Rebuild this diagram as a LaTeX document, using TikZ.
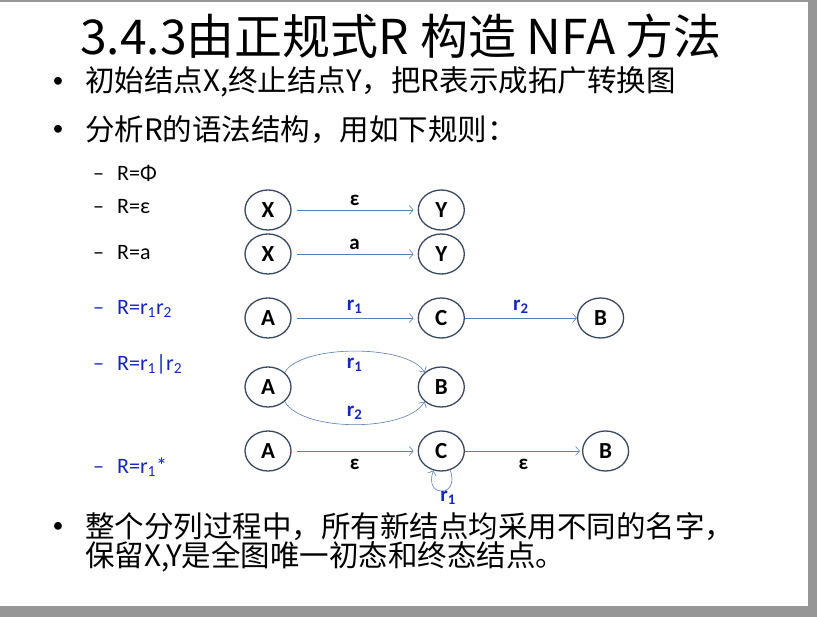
\documentclass[tikz,border=0pt]{standalone}
\usepackage{fontspec}
\setmainfont{Carlito}
\newfontfamily\cjk{Noto Sans CJK SC}
\usetikzlibrary{positioning,shapes.geometric,arrows.meta}
\definecolor{rimgray}{RGB}{150,150,150}
\definecolor{ringcol}{RGB}{58,72,100}
\definecolor{linecol}{RGB}{90,128,176}
\definecolor{rblue}{RGB}{20,40,190}
\tikzset{
  st/.style={ellipse, draw=ringcol, line width=1.3pt, minimum width=46pt, minimum height=40pt,
    inner sep=0pt, font=\bfseries\fontsize{23}{23}\selectfont},
  ed/.style={-{Straight Barb[length=4pt,width=9pt]}, draw=linecol, line width=0.6pt,
    shorten <=5pt, shorten >=4pt},
  lab/.style={font=\bfseries\fontsize{21}{21}\selectfont},
  blab/.style={lab, text=rblue},
  item/.style={anchor=west, inner sep=0pt, font=\fontsize{22}{24}\selectfont},
  big/.style={anchor=west, inner sep=0pt, font=\cjk\fontsize{29.5}{31}\selectfont},
  dot/.style={inner sep=0pt, font=\fontsize{22}{22}\selectfont},
}
\begin{document}
\begin{tikzpicture}[x=1pt, y=-1pt, node distance=126pt]
  \useasboundingbox (0,0) rectangle (817,617);
  \fill[rimgray] (0,0) rectangle (817,617);
  \fill[white] (0,2) rectangle (808,606);

  % title and bullets
  \node (t) [anchor=base west, inner sep=0pt, font=\cjk\fontsize{48}{50}\selectfont] at (80,55)
    {3.4.3由正规式R 构造 NFA 方法};
  \node (b1) [big] at (85,82) {初始结点X,终止结点Y，把R表示成拓广转换图};
  \node [dot] at (58,82) {•};
  \node (b2) [big] at (85,130) {分析R的语法结构，用如下规则：};
  \node [dot] at (58,130) {•};

  % rules
  \node (r0) [item] at (93,173) {–\hspace{13pt}R=Φ};
  \node (r1) [item] at (93,207) {–\hspace{13pt}R=ε};
  \node (r2) [item] at (93,253) {–\hspace{13pt}R=a};
  \node (r3) [item, text=rblue] at (93,309) {–\hspace{13pt}R=r\textsubscript{1}r\textsubscript{2}};
  \node (r4) [item, text=rblue] at (93,364) {–\hspace{13pt}R=r\textsubscript{1}|r\textsubscript{2}};
  \node (r5) [item, text=rblue] at (93,467) {–\hspace{13pt}R=r\textsubscript{1}*};

  % R = epsilon
  \node (0) [st] at (268,210) {X};
  \node (1) [st, right=of 0] {Y};
  \draw[ed] (0) -- node[lab, above=1pt] {ε} (1);

  % R = a
  \node (2) [st] at (268,254) {X};
  \node (3) [st, right=of 2] {Y};
  \draw[ed] (2) -- node[lab, above=1pt] {a} (3);

  % R = r1 r2
  \node (4) [st] at (268,318) {A};
  \node (5) [st, right=of 4] {C};
  \node (6) [st, right=112pt of 5] {B};
  \draw[ed] (4) -- node[blab, above=1pt] {r\textsubscript{1}} (5);
  \draw[ed, shorten <=0pt, shorten >=0pt] (5) -- node[blab, above=1pt] {r\textsubscript{2}} (6);

  % R = r1 | r2
  \node (7) [st] at (268,387) {A};
  \node (8) [st, right=of 7] {B};
  \draw[ed, shorten <=0pt, shorten >=0pt] (7.north east) to[out=60, in=120, looseness=0.6]
    node[blab, below=3pt] {r\textsubscript{1}} (8.north west);
  \draw[ed, shorten <=0pt, shorten >=0pt] (7.south east) to[out=-60, in=-120, looseness=0.65]
    node[blab, above=1pt] {r\textsubscript{2}} (8.south west);

  % R = r1*
  \node (9) [st] at (268,451) {A};
  \node (10) [st, right=of 9] {C};
  \node (11) [st, right=117pt of 10] {B};
  \draw[ed] (9) -- node[lab, below=5pt] {ε} (10);
  \draw[ed, shorten <=0pt, shorten >=2pt] (10) -- node[lab, below=5pt] {ε} (11);
  \draw[ed, shorten <=0pt, shorten >=0pt] (10.-65) to[out=-70, in=-110, looseness=4.5] (10.-112);
  \node (12) [blab] at (448,498) {r\textsubscript{1}};

  % closing bullet
  \node (b3) [big] at (85,527) {整个分列过程中，所有新结点均采用不同的名字，};
  \node [dot] at (58,527) {•};
  \node (b4) [big] at (85,557) {保留X,Y是全图唯一初态和终态结点。};
\end{tikzpicture}
\end{document}
